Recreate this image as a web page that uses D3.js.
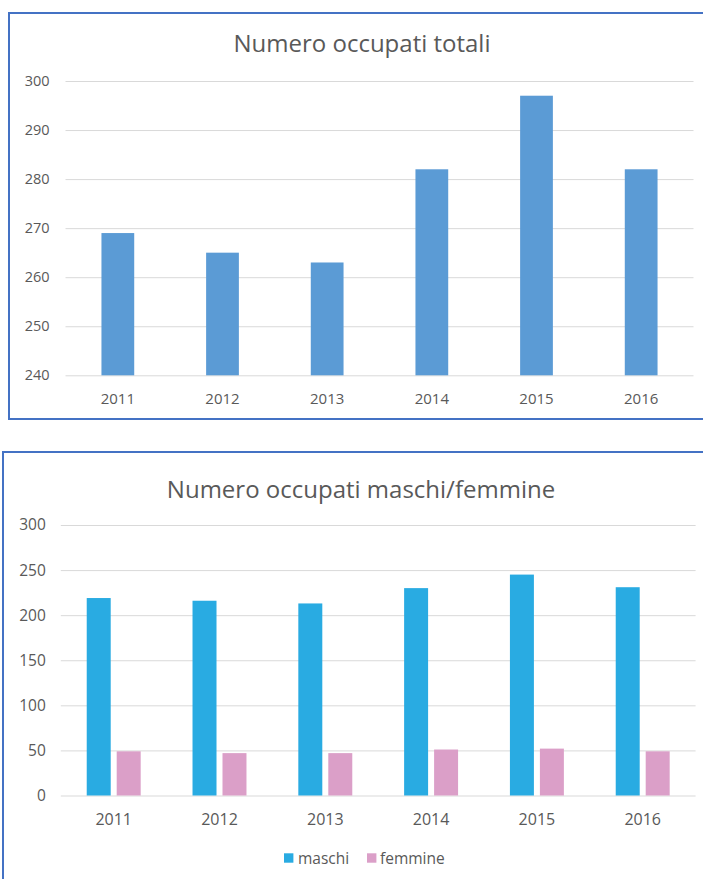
<!DOCTYPE html>
<html>
<head>
<meta charset="utf-8">
<script src="https://cdn.jsdelivr.net/npm/d3@7"></script>
<style>
  html, body { margin: 0; padding: 0; background: #fff; overflow: hidden; }
  svg { display: block; }
  text { font-family: "Open Sans", Lato, sans-serif; fill: #595959; }
</style>
</head>
<body>
<svg id="chart" width="703" height="879"></svg>
<script>
// Employment figures by year
const years = ["2011", "2012", "2013", "2014", "2015", "2016"];
const totali = [269, 265, 263, 282, 297, 282];
const maschi = [219, 216, 213, 230, 245, 231];
const femmine = [49, 47, 47, 51, 52, 49];
const totaliTicks = [240, 250, 260, 270, 280, 290, 300];
const sessoTicks = [0, 50, 100, 150, 200, 250, 300];
const seriesNames = ["maschi", "femmine"];

const svg = d3.select("#chart");
const frameColor = "#4472C4";
const gridColor = "#D9D9D9";

// ---------- Chart 1: total employed ----------
{
  const g = svg.append("g");
  g.append("rect")
    .attr("x", 9).attr("y", 13)
    .attr("width", 720).attr("height", 406)
    .attr("fill", "none").attr("stroke", frameColor).attr("stroke-width", 2);

  g.append("text")
    .attr("x", 362).attr("y", 51.7)
    .attr("text-anchor", "middle")
    .style("font-size", "24px")
    .text("Numero occupati totali");

  const x = d3.scaleBand().domain(years).range([65.5, 693.5])
    .paddingInner(0.687).paddingOuter(0.3435);
  const y = d3.scaleLinear().domain([240, 300]).range([375.3, 81]);

  const yAxis = d3.axisLeft(y).tickValues(totaliTicks)
    .tickSize(-(693.5 - 65.5)).tickPadding(16);
  const ya = g.append("g").attr("transform", "translate(65.5,0)").call(yAxis);
  ya.select(".domain").remove();
  ya.selectAll(".tick line").attr("stroke", gridColor);
  ya.selectAll(".tick text").style("font-size", "14.5px").attr("fill", "#595959");

  g.selectAll(".bar1").data(years).join("rect")
    .attr("class", "bar1")
    .attr("x", d => x(d))
    .attr("width", x.bandwidth())
    .attr("y", (d, i) => y(totali[i]))
    .attr("height", (d, i) => y(240) - y(totali[i]))
    .attr("fill", "#5B9BD5");

  const xAxis = d3.axisBottom(x).tickSize(0);
  const xa = g.append("g").attr("transform", "translate(0,375.3)").call(xAxis);
  xa.select(".domain").remove();
  xa.selectAll(".tick text")
    .attr("y", 404 - 375.3).attr("dy", null)
    .style("font-size", "15px").attr("fill", "#595959");
}

// ---------- Chart 2: employed by sex ----------
{
  const g = svg.append("g");
  g.append("rect")
    .attr("x", 3).attr("y", 452)
    .attr("width", 730).attr("height", 460)
    .attr("fill", "none").attr("stroke", frameColor).attr("stroke-width", 2);

  g.append("text")
    .attr("x", 361).attr("y", 498.3)
    .attr("text-anchor", "middle")
    .style("font-size", "24px")
    .text("Numero occupati maschi/femmine");

  const x0 = d3.scaleBand().domain(years).range([60.8, 695.6])
    .paddingInner(0.49).paddingOuter(0.245);
  const x1 = d3.scaleBand().domain(seriesNames).range([0, x0.bandwidth()])
    .paddingInner(0.2);
  const y = d3.scaleLinear().domain([0, 300]).range([795.5, 525]);
  const colors = d3.scaleOrdinal().domain(seriesNames).range(["#29ABE2", "#DB9FC8"]);

  const yAxis = d3.axisLeft(y).tickValues(sessoTicks)
    .tickSize(-(695.6 - 60.8)).tickPadding(15);
  const ya = g.append("g").attr("transform", "translate(60.8,0)").call(yAxis);
  ya.select(".domain").remove();
  ya.selectAll(".tick line").attr("stroke", gridColor);
  ya.selectAll(".tick text").style("font-size", "15.5px").attr("fill", "#595959");

  const rows = years.map((yr, i) => ({ year: yr, maschi: maschi[i], femmine: femmine[i] }));
  const groups = g.selectAll(".grp").data(rows).join("g")
    .attr("class", "grp")
    .attr("transform", d => `translate(${x0(d.year)},0)`);
  groups.selectAll("rect").data(d => seriesNames.map(k => ({ key: k, value: d[k] })))
    .join("rect")
    .attr("x", d => x1(d.key))
    .attr("width", x1.bandwidth())
    .attr("y", d => y(d.value))
    .attr("height", d => y(0) - y(d.value))
    .attr("fill", d => colors(d.key));

  const xAxis = d3.axisBottom(x0).tickSize(0);
  const xa = g.append("g").attr("transform", "translate(0,795.5)").call(xAxis);
  xa.select(".domain").remove();
  xa.selectAll(".tick text")
    .attr("y", 824.5 - 795.5).attr("dy", null)
    .style("font-size", "16px").attr("fill", "#595959");

  // Legend
  const legendItems = [
    { key: "maschi", sx: 284, tx: 298 },
    { key: "femmine", sx: 367, tx: 380 }
  ];
  const lg = g.append("g");
  legendItems.forEach(it => {
    lg.append("rect").attr("x", it.sx).attr("y", 853.3).attr("width", 9.4).attr("height", 9.4)
      .attr("fill", colors(it.key));
    lg.append("text").attr("x", it.tx).attr("y", 864)
      .style("font-size", "15.5px")
      .text(it.key);
  });
}
</script>
</body>
</html>
